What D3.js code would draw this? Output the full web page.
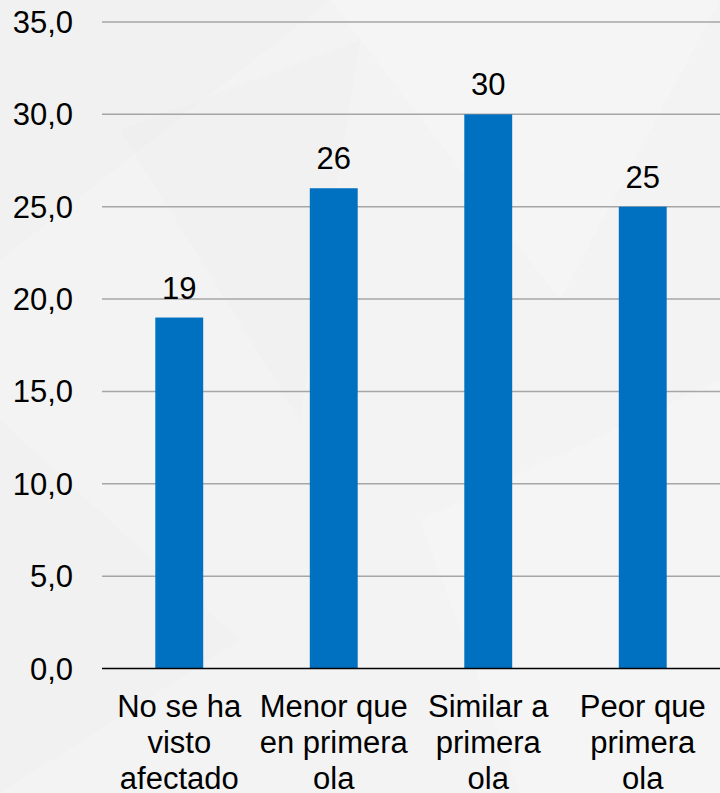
<!DOCTYPE html>
<html>
<head>
<meta charset="utf-8">
<script src="https://cdn.jsdelivr.net/npm/d3@7"></script>
<style>
  html, body { margin: 0; padding: 0; background: #f3f3f3; }
  svg { display: block; font-family: "Liberation Sans", Arial, sans-serif; }
</style>
</head>
<body>
<div id="chart"></div>
<script>

// categories and values
var categories = ['No se ha visto afectado', 'Menor que en primera ola', 'Similar a primera ola', 'Peor que primera ola'];
var values = [19, 26, 30, 25];
var yTicks = [0, 5, 10, 15, 20, 25, 30, 35];

var width = 720, height = 793;
var margin = {top: 22, right: 0, bottom: 124.5, left: 102};

var svg = d3.select('#chart')
			.append('svg')
			.attr('width', width)
			.attr('height', height);

// faint background shapes
var bg = svg.append('g');
bg.append('rect').attr('width', width).attr('height', height).attr('fill', '#f3f3f3');
var shapes = [
	[[0,0],[330,0],[0,260]],
	[[330,0],[720,0],[560,300]],
	[[0,420],[240,640],[0,793]],
	[[420,520],[720,380],[720,793],[520,793]],
	[[120,130],[360,40],[300,420]]
];
bg.selectAll('polygon')
  .data(shapes)
  .enter()
  .append('polygon')
  .attr('points', function(d) { return d.map(function(p) { return p.join(','); }).join(' '); })
  .attr('fill', function(d, i) { return i % 2 ? '#ffffff' : '#ebebeb'; })
  .attr('opacity', 0.18);

var x = d3.scaleBand()
		  .domain(categories)
		  .range([margin.left, width - margin.right])
		  .paddingInner(0.69)
		  .paddingOuter(0.345);

var y = d3.scaleLinear()
		  .domain([0, 35])
		  .range([height - margin.bottom, margin.top]);

var fmt = function(d) { return d3.format('.1f')(d).replace('.', ','); };

// gridlines
svg.append('g')
   .selectAll('line')
   .data(yTicks.filter(function(d) { return d > 0; }))
   .enter()
   .append('line')
   .attr('x1', margin.left)
   .attr('x2', width - margin.right)
   .attr('y1', function(d) { return y(d); })
   .attr('y2', function(d) { return y(d); })
   .attr('stroke', '#a6a6a6')
   .attr('stroke-width', 1.5);

// y labels
svg.append('g')
   .selectAll('text')
   .data(yTicks)
   .enter()
   .append('text')
   .attr('x', 73)
   .attr('y', function(d) { return y(d) + 11; })
   .attr('text-anchor', 'end')
   .attr('font-size', 31)
   .attr('fill', '#000')
   .text(fmt);

// bars
svg.append('g')
   .selectAll('rect')
   .data(values)
   .enter()
   .append('rect')
   .attr('x', function(d, i) { return x(categories[i]); })
   .attr('y', function(d) { return y(d); })
   .attr('width', x.bandwidth())
   .attr('height', function(d) { return y(0) - y(d); })
   .attr('fill', '#0070c0');

// value labels
svg.append('g')
   .selectAll('text')
   .data(values)
   .enter()
   .append('text')
   .attr('x', function(d, i) { return x(categories[i]) + x.bandwidth() / 2; })
   .attr('y', function(d) { return y(d) - 19; })
   .attr('text-anchor', 'middle')
   .attr('font-size', 31)
   .attr('fill', '#000')
   .text(function(d) { return d; });

// baseline
svg.append('line')
   .attr('x1', margin.left)
   .attr('x2', width - margin.right)
   .attr('y1', y(0))
   .attr('y2', y(0))
   .attr('stroke', '#000')
   .attr('stroke-width', 1.5);

// category labels, wrapped to the band step
var labels = svg.append('g')
				.selectAll('text')
				.data(categories)
				.enter()
				.append('text')
				.attr('text-anchor', 'middle')
				.attr('font-size', 31)
				.attr('fill', '#000');

labels.each(function(d) {
	var t = d3.select(this);
	var cx = x(d) + x.bandwidth() / 2;
	var words = d.split(' ');
	var lines = [], line = [];
	var probe = t.append('tspan');
	words.forEach(function(w) {
		line.push(w);
		probe.text(line.join(' '));
		if (probe.node().getComputedTextLength() > x.step() - 2 && line.length > 1) {
			line.pop();
			lines.push(line.join(' '));
			line = [w];
		}
	});
	lines.push(line.join(' '));
	probe.remove();
	lines.forEach(function(l, i) {
		t.append('tspan')
		 .attr('x', cx)
		 .attr('y', 717 + i * 36)
		 .text(l);
	});
});

</script>
</body>
</html>
